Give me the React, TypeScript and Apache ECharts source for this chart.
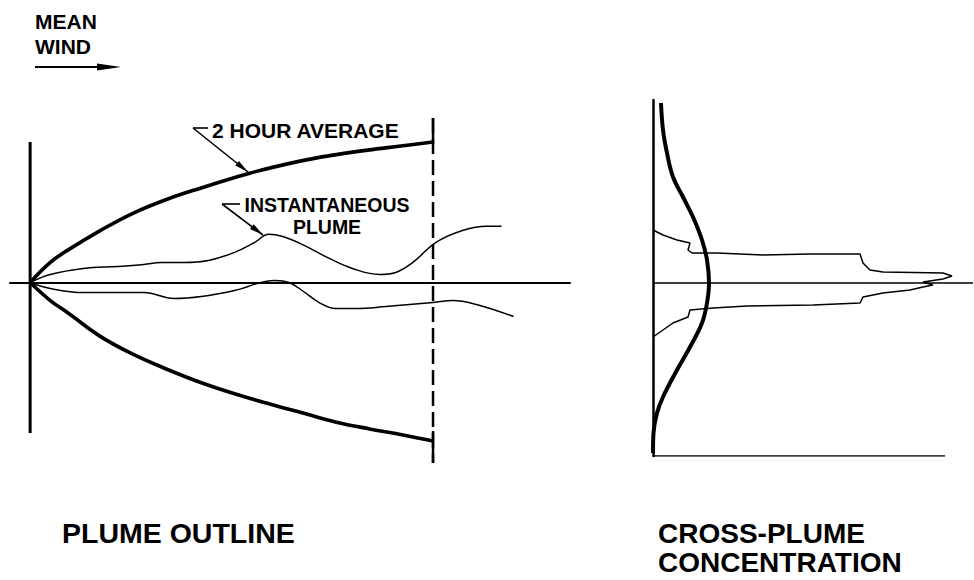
import React, { useEffect, useRef } from "react";
import * as echarts from "echarts";

// ---- PLUME OUTLINE (downwind distance, crosswind offset) ----
const avgUpper: [number, number][] = [
  [0, 0], [1.0, 1.0], [1.85, 1.6], [3.5, 2.6], [5.1, 3.45], [6.8, 4.15], [8.45, 4.7],
  [10.9, 5.45], [13.4, 6.05], [15.05, 6.35], [16.75, 6.6], [18.4, 6.8], [20.0, 7.0],
];
const avgLower: [number, number][] = [
  [0, 0], [1.0, -0.9], [1.85, -1.5], [3.5, -2.7], [5.15, -3.6], [6.85, -4.35], [8.5, -5.0],
  [10.15, -5.55], [11.85, -6.05], [13.5, -6.5], [15.15, -6.95], [16.85, -7.3], [18.5, -7.6], [20.0, -7.9],
];
const instUpper: [number, number][] = [
  [0, 0], [1.0, 0.4], [2.65, 0.7], [4.35, 0.8], [5.65, 0.9], [6.5, 1.0], [7.65, 1.0],
  [8.85, 1.1], [10.15, 1.5], [11.15, 2.0], [11.85, 2.4], [12.5, 2.3], [13.5, 1.9],
  [14.85, 1.2], [16.0, 0.7], [17.35, 0.4], [18.15, 0.5], [19.0, 1.0], [20.15, 2.0],
  [21.5, 2.6], [22.65, 2.8], [23.4, 2.8],
];
const instLower: [number, number][] = [
  [0, 0], [1.0, -0.3], [2.65, -0.5], [4.35, -0.5], [5.65, -0.5], [7.15, -0.8], [8.5, -0.7],
  [10.15, -0.4], [12.15, 0.1], [12.85, 0.0], [13.5, -0.4], [14.35, -1.0], [15.15, -1.3],
  [16.15, -1.3], [17.65, -1.2], [20.0, -1.0], [21.0, -0.9], [22.15, -1.1], [24.0, -1.7],
];
const sampleDistance = 20;
const verticalAxisSpan: [number, number] = [7.0, -7.5];

// ---- CROSS-PLUME CONCENTRATION (concentration, crosswind offset) ----
const avgProfile: [number, number][] = [
  [0.8, 9.0], [1.0, 7.65], [1.4, 6.5], [2.0, 5.3], [3.0, 4.3], [4.0, 3.3], [4.9, 2.15],
  [5.4, 1.15], [5.6, 0], [5.4, -1.0], [4.9, -2.0], [3.7, -3.2], [2.4, -4.35], [1.0, -5.7],
  [0.4, -6.5], [0.05, -7.5], [0.0, -8.5],
];
const instProfile: [number, number][] = [
  [0, 2.65], [1.0, 2.4], [2.4, 2.15], [3.7, 2.0], [3.5, 1.65], [3.9, 1.5], [5.4, 1.5],
  [6.4, 1.5], [11.0, 1.4], [15.7, 1.45], [20.7, 1.45], [21.0, 1.0], [21.7, 0.65],
  [23.0, 0.55], [29.0, 0.5], [29.9, 0.35], [29.0, 0.2], [27.0, 0.05], [28.0, -0.1],
  [27.0, -0.2], [25.7, -0.35], [23.0, -0.5], [21.0, -0.7], [20.7, -1.0], [16.0, -1.1],
  [9.4, -1.15], [6.0, -1.25], [3.7, -1.35], [3.5, -1.7], [2.0, -2.0], [0, -2.7],
];
const centerLineLength = 32;
const baselineLength = 29.2;

const FONT = "'Liberation Sans', Arial, Helvetica, sans-serif";

function arrowHead(x1: number, y1: number, x2: number, y2: number, len: number, half: number) {
  const dx = x2 - x1, dy = y2 - y1;
  const L = Math.hypot(dx, dy);
  const ux = dx / L, uy = dy / L;
  const bx = x2 - ux * len, by = y2 - uy * len;
  return [[x2, y2], [bx - uy * half, by + ux * half], [bx + uy * half, by - ux * half]];
}

function line(data: [number, number][], width: number, idx: number, smooth: number | boolean = false, dashed?: number[]) {
  return {
    type: "line",
    xAxisIndex: idx,
    yAxisIndex: idx,
    data,
    symbol: "none",
    smooth,
    silent: true,
    lineStyle: { color: "#000", width, type: dashed ? dashed : "solid", cap: "butt" },
  };
}

export default function App() {
  const ref = useRef<HTMLDivElement>(null);
  useEffect(() => {
    document.body.style.margin = "0";
    const chart = echarts.init(ref.current!, null, { renderer: "svg" });
    const leaders: any[] = [];
    const addLeader = (sx: number, sy: number, ex: number, ey: number, tx: number, ty: number) => {
      leaders.push({ type: "line", shape: { x1: sx, y1: sy, x2: ex, y2: ey }, style: { stroke: "#000", lineWidth: 1.6 } });
      leaders.push({ type: "line", shape: { x1: sx, y1: sy, x2: tx, y2: ty }, style: { stroke: "#000", lineWidth: 1.6 } });
      leaders.push({ type: "polygon", shape: { points: arrowHead(sx, sy, tx, ty, 14, 3) }, style: { fill: "#000" } });
    };
    addLeader(193, 128, 208, 128, 248, 172);
    addLeader(222, 204, 240, 204, 263, 235);

    const txt = (text: string, x: number, y: number, size: number, align = "left") => ({
      type: "text",
      x,
      y,
      style: { text, font: `bold ${size}px ${FONT}`, fill: "#000", textAlign: align, textVerticalAlign: "middle" },
    });

    chart.setOption({
      animation: false,
      backgroundColor: "#fff",
      grid: [
        { left: 10, width: 560, top: 118, height: 345 },
        { left: 653, width: 320, top: 100, height: 356 },
      ],
      xAxis: [
        {
          type: "value", gridIndex: 0, min: -1, max: 26.8,
          axisLine: { show: true, onZero: true, lineStyle: { color: "#000", width: 2 } },
          axisTick: { show: false }, axisLabel: { show: false }, splitLine: { show: false },
        },
        { type: "value", gridIndex: 1, min: 0, max: centerLineLength, show: false },
      ],
      yAxis: [
        { type: "value", gridIndex: 0, min: -9, max: 8.2, show: false },
        {
          type: "value", gridIndex: 1, min: -8.65, max: 9.15,
          axisLine: { show: true, onZero: false, lineStyle: { color: "#000", width: 2.5 } },
          axisTick: { show: false }, axisLabel: { show: false }, splitLine: { show: false },
        },
      ],
      series: [
        line([[0, verticalAxisSpan[0]], [0, verticalAxisSpan[1]]], 3, 0),
        line(avgUpper, 3.6, 0, 0.4),
        line(avgLower, 3.6, 0, 0.4),
        line(instUpper, 1.5, 0, 0.4),
        line(instLower, 1.5, 0, 0.4),
        line([[sampleDistance, 8.2], [sampleDistance, -9]], 2.5, 0, false, [15, 6]),
        line([[sampleDistance, 8.2], [sampleDistance, 6.9]], 2.5, 0),
        line([[sampleDistance, -7.4], [sampleDistance, -9]], 2.5, 0),
        line([[0, 0], [centerLineLength, 0]], 1.5, 1),
        line([[0, -8.65], [baselineLength, -8.65]], 1.5, 1),
        line(avgProfile, 4, 1, 0.4),
        line(instProfile, 1.5, 1),
      ],
      graphic: [
        txt("MEAN", 35, 21, 21),
        txt("WIND", 35, 46, 21),
        { type: "line", shape: { x1: 35, y1: 67, x2: 110, y2: 67 }, style: { stroke: "#000", lineWidth: 2 } },
        { type: "polygon", shape: { points: arrowHead(35, 67, 121, 67, 24, 3.5) }, style: { fill: "#000" } },
        txt("2 HOUR AVERAGE", 212, 130, 21),
        txt("INSTANTANEOUS", 327, 205, 19.5, "center"),
        txt("PLUME", 327, 227, 19.5, "center"),
        ...leaders,
        txt("PLUME OUTLINE", 62, 533, 28.5),
        txt("CROSS-PLUME", 658, 533, 28),
        txt("CONCENTRATION", 658, 562, 28),
      ],
    });
    return () => chart.dispose();
  }, []);
  return <div ref={ref} style={{ width: 974, height: 580 }} />;
}
